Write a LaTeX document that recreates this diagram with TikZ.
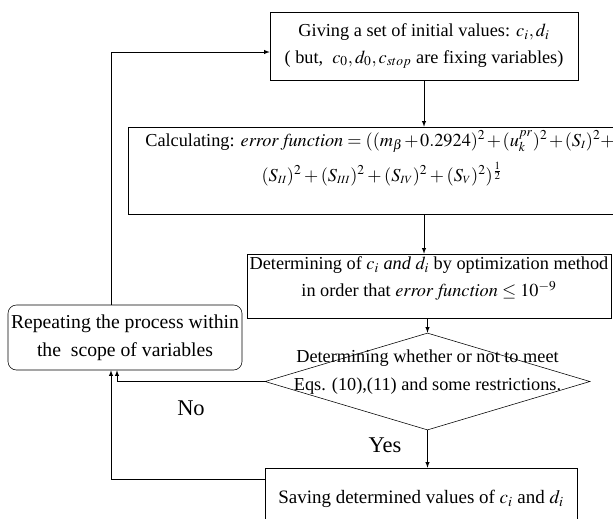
\documentclass[tikz,border=0pt]{standalone}
\usepackage{mathptmx}
\usepackage[no-math]{fontspec}
\setmainfont{Liberation Serif}
\usetikzlibrary{shapes.geometric}
\pgfdeclarelayer{edgelayer}
\pgfdeclarelayer{nodelayer}
\pgfsetlayers{edgelayer,nodelayer,main}
\newcommand{\rn}[1]{_{\scriptscriptstyle #1}}
\tikzstyle{none}=[inner sep=0pt]
\tikzstyle{stage}=[rectangle,fill=white,draw=black,align=center,inner sep=0pt,font=\fontsize{13}{19}\selectfont]
\tikzstyle{loopbox}=[stage,rounded corners=6pt,font=\fontsize{14}{20}\selectfont]
\tikzstyle{decision}=[diamond,fill=white,draw=black,inner sep=0pt]
\tikzstyle{question}=[inner sep=0pt,align=center,font=\fontsize{13}{20}\selectfont]
\tikzstyle{answer}=[inner sep=0pt,font=\fontsize{16}{18}\selectfont]
\tikzstyle{transition}=[-latex,draw=black]

\begin{document}
\begin{tikzpicture}
	\useasboundingbox (0, 0) rectangle (15.325, -12.95);
	\begin{pgfonlayer}{nodelayer}
		\node [style=stage, minimum width=7.7cm, minimum height=1.7cm] (0) at (10.6, -1.15) {Giving a set of initial values: $c_i, d_i$\\ ( but,\ \ $c_0, d_0, c_{stop}$ are fixing variables)};
		\node [style=stage, minimum width=12.3cm, minimum height=2.175cm, font=\fontsize{13}{25}\selectfont] (1) at (9.35, -4.2625) {\medmuskip=1.5mu\relax\hspace{0.3cm}Calculating: $\mathit{error\ function} = ((m_\beta + 0.2924)^2 + (u_k^{pr})^2 + (S\rn{I})^2 +$\\ \hspace{0.4cm}$(S\rn{II})^2 + (S\rn{III})^2 + (S\rn{IV})^2 + (S\rn{V})^2)^{\frac{1}{2}}$\\[-4pt]};
		\node [style=stage, minimum width=9.1cm, minimum height=1.6cm] (2) at (10.725, -7.15) {Determining of $c_i$ \textit{and} $d_i$ by optimization method\\ in order that $\mathit{error\ function} \le 10^{-9}$\\[-6pt]};
		\node [style=decision, minimum width=8.125cm, minimum height=2.425cm] (3) at (10.6875, -9.5375) {};
		\node [style=loopbox, minimum width=5.85cm, minimum height=1.625cm] (4) at (3.125, -8.4375) {Repeating the process within\\ the\ \ scope of variables};
		\node [style=stage, minimum width=7.8cm, minimum height=1.55cm, font=\fontsize{13.5}{19}\selectfont] (5) at (10.525, -12.475) {Saving determined values of $c_i$ and $d_i$};
		\node [style=question] (6) at (10.6875, -9.3) {Determining whether or not to meet\\ Eqs. (10),(11) and some restrictions.};
		\node [style=answer] (7) at (4.775, -10.2) {No};
		\node [style=answer] (8) at (9.625, -11.125) {Yes};
		\coordinate (9) at (2.775, -1.3);
		\coordinate (10) at (2.925, -9.6);
		\coordinate (11) at (2.775, -11.975);
	\end{pgfonlayer}
	\begin{pgfonlayer}{edgelayer}
		\draw [style=transition] (0.south) to (0.south |- 1.north);
		\draw [style=transition] (1.south -| 0.south) to (2.north -| 0.south);
		\draw [style=transition] (2.south -| 3.north) to (3.north);
		\draw [style=transition] (3.south) to (3.south |- 5.north);
		\draw [style=transition] (3.west) -| (4.south -| 10);
		\draw [style=transition] (5.west |- 11) -| (4.south -| 11);
		\draw [style=transition] (4.north -| 9) |- (0.west |- 9);
	\end{pgfonlayer}
\end{tikzpicture}
\end{document}
